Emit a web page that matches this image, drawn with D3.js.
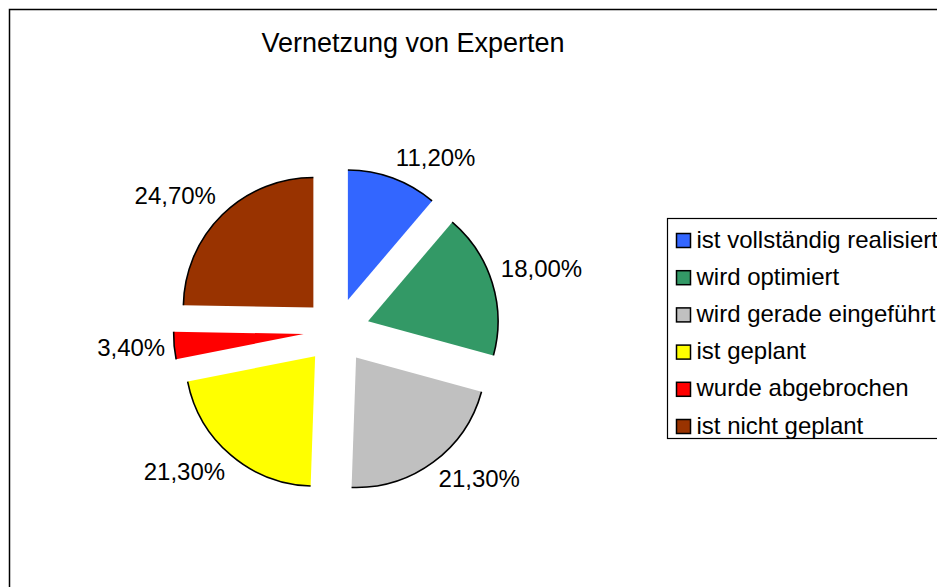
<!DOCTYPE html>
<html>
<head>
<meta charset="utf-8">
<script src="https://cdn.jsdelivr.net/npm/d3@7"></script>
<style>
  html, body { margin: 0; padding: 0; background: #fff; overflow: hidden; }
  svg { display: block; }
  text { font-family: Arial, "Liberation Sans", sans-serif; fill: #000; }
</style>
</head>
<body>
<svg id="chart" width="937" height="587"></svg>
<script>
// ---- data ----
const title = "Vernetzung von Experten";
const categories = ["ist vollständig realisiert", "wird optimiert", "wird gerade eingeführt", "ist geplant", "wurde abgebrochen", "ist nicht geplant"];
const values = [11.2, 18.0, 21.3, 21.3, 3.4, 24.7];
const colors = ["#3366FF", "#339966", "#C0C0C0", "#FFFF00", "#FF0000", "#993300"];

// ---- layout ----
const cx = 336.5, cy = 331;
const R = 130;        // slice radius
const explode = 33;   // slice offset from centre
const labelGap = 9;

const svg = d3.select("#chart");

// chart frame
svg.append("rect")
  .attr("x", 9.5).attr("y", 9.5)
  .attr("width", 1200).attr("height", 1200)
  .attr("fill", "none").attr("stroke", "#000").attr("stroke-width", 1.5);

// title
svg.append("text")
  .attr("x", 413).attr("y", 52)
  .attr("text-anchor", "middle")
  .style("font-size", "27px")
  .text(title);

const data = categories.map((c, i) => ({ name: c, value: values[i], color: colors[i] }));

const pie = d3.pie().sort(null).value(d => d.value).startAngle(0).endAngle(2 * Math.PI);
const arcs = pie(data);
const arcGen = d3.arc().innerRadius(0).outerRadius(R);

const locale = d3.formatLocale({ decimal: ",", thousands: ".", grouping: [3], currency: ["", "€"] });
const fmt = locale.format(".2f");

const g = svg.append("g").attr("transform", `translate(${cx},${cy})`);

const slice = g.selectAll("g.slice").data(arcs).join("g")
  .attr("class", "slice")
  .attr("transform", d => {
    const m = (d.startAngle + d.endAngle) / 2;
    return `translate(${explode * Math.sin(m)},${-explode * Math.cos(m)})`;
  });

slice.append("path")
  .attr("d", arcGen)
  .attr("fill", d => d.data.color)
  .attr("stroke", "none");

// outer arc outline only
slice.append("path")
  .attr("d", d => {
    const p = d3.path();
    p.arc(0, 0, R, d.startAngle - Math.PI / 2, d.endAngle - Math.PI / 2, false);
    return p.toString();
  })
  .attr("fill", "none")
  .attr("stroke", "#000")
  .attr("stroke-width", 1.6);

// labels
const labelFont = 24;
const labels = g.selectAll("text.lbl").data(arcs).join("text")
  .attr("class", "lbl")
  .style("font-size", labelFont + "px")
  .attr("text-anchor", "middle")
  .text(d => fmt(d.data.value) + "%");

labels.each(function (d) {
  const m = (d.startAngle + d.endAngle) / 2;
  const dx = Math.sin(m), dy = -Math.cos(m);
  const dist = R + explode + labelGap;
  const ax = dist * dx, ay = dist * dy;
  const bb = this.getBBox();
  const hw = bb.width / 2, hh = 11;
  const clamp = v => Math.max(-1, Math.min(1, v));
  const ox = hw * clamp(dx * 3), oy = hh * clamp(dy * 3);
  d3.select(this)
    .attr("x", ax + ox)
    .attr("y", ay + oy + 7);
});

// legend
const lg = svg.append("g").attr("transform", "translate(667.5,218.5)");
lg.append("rect")
  .attr("width", 320).attr("height", 220)
  .attr("fill", "#fff").attr("stroke", "#000").attr("stroke-width", 1.2);

const item = lg.selectAll("g.item").data(data).join("g")
  .attr("class", "item")
  .attr("transform", (d, i) => `translate(0,${15 + i * 37.2})`);

item.append("rect")
  .attr("x", 9).attr("y", 0)
  .attr("width", 14).attr("height", 14)
  .attr("fill", d => d.color)
  .attr("stroke", "#000").attr("stroke-width", 1.5);

item.append("text")
  .attr("x", 29).attr("y", 14)
  .style("font-size", "24px")
  .text(d => d.name);
</script>
</body>
</html>
